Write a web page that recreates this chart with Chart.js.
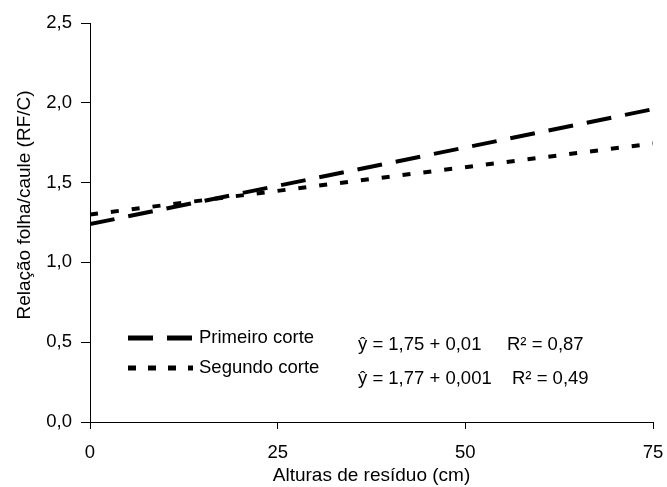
<!DOCTYPE html>
<html lang="pt">
<head>
<meta charset="UTF-8">
<title>Relação folha/caule</title>
<script src="https://cdn.jsdelivr.net/npm/chart.js"></script>
<style>
  body { margin: 0; background: #fff; }
  #wrap { width: 667px; height: 487px; }
</style>
</head>
<body>
<div id="wrap"><canvas id="grafico" width="667" height="487"></canvas></div>
<script>
// Dados
const alturas = [0, 75];                 // eixo x (cm)
const primeiroCorte = [1.24, 1.96];      // RF/C, primeiro corte
const segundoCorte = [1.30, 1.745];      // RF/C, segundo corte
const xTicks = [0, 25, 50, 75];
const yTicks = [0, 0.5, 1, 1.5, 2, 2.5];
const equacoes = ['ŷ = 1,75 + 0,01', 'ŷ = 1,77 + 0,001'];
const r2 = ['R² = 0,87', 'R² = 0,49'];

const fonte = '"Liberation Sans", Arial, sans-serif';
const pontos = (ys) => alturas.map((x, i) => ({ x: x, y: ys[i] }));

// Legenda interna, equações e título do eixo y
const extras = {
  id: 'extras',
  afterDraw(chart) {
    const ctx = chart.ctx;
    ctx.save();
    ctx.fillStyle = '#000';
    ctx.strokeStyle = '#000';
    ctx.font = '18.5px ' + fonte;
    ctx.textBaseline = 'middle';

    const linhas = [
      { y: 338, dash: [25, 14] },
      { y: 368, dash: [8, 12] }
    ];
    chart.data.datasets.forEach((ds, i) => {
      const l = linhas[i];
      ctx.lineWidth = 5;
      ctx.setLineDash(l.dash);
      ctx.beginPath();
      ctx.moveTo(128, l.y);
      ctx.lineTo(193, l.y);
      ctx.stroke();
      ctx.setLineDash([]);
      ctx.textAlign = 'left';
      ctx.fillText(ds.label, 199, l.y);
    });

    ctx.fillText(equacoes[0], 358, 345);
    ctx.fillText(r2[0], 507, 345);
    ctx.fillText(equacoes[1], 358, 379);
    ctx.fillText(r2[1], 512, 379);

    ctx.font = '19px ' + fonte;
    ctx.translate(25, 205);
    ctx.rotate(-Math.PI / 2);
    ctx.textAlign = 'center';
    ctx.fillText('Relação folha/caule (RF/C)', 0, 0);
    ctx.restore();
  }
};

new Chart(document.getElementById('grafico'), {
  type: 'line',
  data: {
    datasets: [{
      label: 'Primeiro corte',
      data: pontos(primeiroCorte),
      borderColor: '#000',
      borderWidth: 4,
      borderDash: [25, 14],
      pointRadius: 0,
      fill: false,
      tension: 0
    }, {
      label: 'Segundo corte',
      data: pontos(segundoCorte),
      borderColor: '#000',
      borderWidth: 4,
      borderDash: [8, 13],
      pointRadius: 0,
      fill: false,
      tension: 0
    }]
  },
  options: {
    responsive: false,
    animation: false,
    layout: { padding: { top: 23, right: 14, left: 0, bottom: 0 } },
    plugins: { legend: { display: false }, tooltip: { enabled: false } },
    scales: {
      x: {
        type: 'linear',
        min: 0,
        max: 75,
        afterBuildTicks: (s) => { s.ticks = xTicks.map(v => ({ value: v })); },
        afterFit: (s) => { s.height = 65; s.paddingLeft = 0; s.paddingRight = 0; },
        grid: { drawOnChartArea: false, color: '#000', tickLength: 7 },
        border: { color: '#000', width: 1 },
        ticks: { color: '#000', font: { family: fonte, size: 18.5 }, padding: 13, maxRotation: 0 },
        title: {
          display: true,
          text: 'Alturas de resíduo (cm)',
          color: '#000',
          font: { family: fonte, size: 19 },
          padding: { top: 0, bottom: 0 }
        }
      },
      y: {
        min: 0,
        max: 2.5,
        afterBuildTicks: (s) => { s.ticks = yTicks.map(v => ({ value: v })); },
        afterFit: (s) => { s.width = 90; s.paddingTop = 0; s.paddingBottom = 0; },
        grid: { drawOnChartArea: false, color: '#000', tickLength: 9 },
        border: { color: '#000', width: 1 },
        ticks: {
          color: '#000',
          font: { family: fonte, size: 18.5 },
          padding: 9,
          callback: (v) => v.toFixed(1).replace('.', ',')
        }
      }
    }
  },
  plugins: [extras]
});
</script>
</body>
</html>
